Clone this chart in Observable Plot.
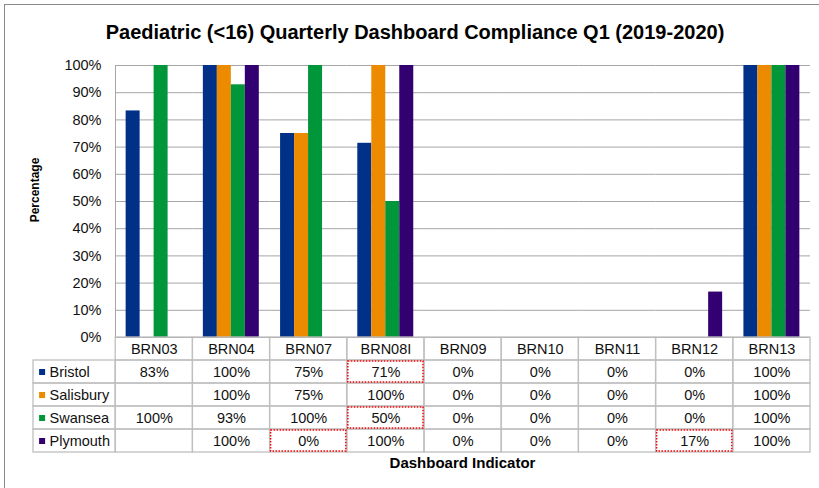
<!DOCTYPE html>
<html>
<head>
<meta charset="utf-8">
<script src="https://cdn.jsdelivr.net/npm/d3@7"></script>
<script src="https://cdn.jsdelivr.net/npm/@observablehq/plot@0.6"></script>
<style>
  html, body { margin: 0; padding: 0; background: #fff; width: 819px; height: 488px; overflow: hidden;
    font-family: "Liberation Sans", Arial, sans-serif; color: #000; }
  #frame { position: absolute; left: 4px; top: 4px; width: 900px; height: 600px; border: 1px solid #8a8a8a; box-sizing: border-box; }
  #title { position: absolute; left: 0; top: 20px; width: 830px; text-align: center; font-weight: bold; font-size: 20px; line-height: 24px; white-space: nowrap; }
  #ylabel { position: absolute; left: 35px; top: 190px; transform: translate(-50%, -50%) rotate(-90deg); font-weight: bold; font-size: 12px; white-space: nowrap; }
  #chart { position: absolute; left: 0; top: 50px; }
  #table { position: absolute; left: 0; top: 336px; }
  #xlabel { position: absolute; left: 115px; width: 695px; top: 455px; text-align: center; font-weight: bold; font-size: 15px; line-height: 16px; }
</style>
</head>
<body>
<div id="frame"></div>
<div id="title">Paediatric (&lt;16) Quarterly Dashboard Compliance Q1 (2019-2020)</div>
<div id="ylabel">Percentage</div>
<div id="chart"></div>
<div id="table"></div>
<div id="xlabel">Dashboard Indicator</div>
<script>
// ---- data ----
const categories = ["BRN03", "BRN04", "BRN07", "BRN08I", "BRN09", "BRN10", "BRN11", "BRN12", "BRN13"];
const sites = ["Bristol", "Salisbury", "Swansea", "Plymouth"];
const siteColors = ["#003087", "#ED8B00", "#009639", "#330072"];
const bristol   = [83.3, 100, 75, 71.4, 0, 0, 0, 0, 100];
const salisbury = [null, 100, 75, 100, 0, 0, 0, 0, 100];
const swansea   = [100, 92.9, 100, 50, 0, 0, 0, 0, 100];
const plymouth  = [null, 100, 0, 100, 0, 0, 0, 16.7, 100];
const yTicks = [0, 10, 20, 30, 40, 50, 60, 70, 80, 90, 100];
const highlightCells = [["BRN08I", "Bristol"], ["BRN08I", "Swansea"], ["BRN07", "Plymouth"], ["BRN12", "Plymouth"]];

// ---- build tables ----
const seriesValues = [bristol, salisbury, swansea, plymouth];
const rows = [];
categories.forEach((c, i) => sites.forEach((s, j) => rows.push({category: c, site: s, value: seriesValues[j][i]})));
const present = rows.filter(d => d.value != null);
const headerKey = " ";
const rowKeys = [headerKey, ...sites];
const gridCells = [];
categories.forEach(c => rowKeys.forEach(r => gridCells.push({category: c, row: r})));

const font = '"Liberation Sans", Arial, sans-serif';

// ---- bar chart ----
const chart = Plot.plot({
  width: 819, height: 300,
  marginLeft: 115, marginRight: 9, marginTop: 15, marginBottom: 13,
  style: {fontFamily: font, fontSize: "14.5px", color: "#000", background: "transparent"},
  fx: {domain: categories, axis: null, paddingInner: 0, paddingOuter: 0, label: null, round: false},
  x: {domain: sites, axis: null, paddingInner: 0, paddingOuter: 0.76, round: false},
  y: {domain: [0, 100], axis: null},
  color: {domain: sites, range: siteColors},
  marks: [
    Plot.ruleY(yTicks, {stroke: "#a6a6a6", strokeWidth: 1}),
    Plot.frame({anchor: "left", stroke: "#a6a6a6", facetAnchor: "left"}),
    Plot.axisY(yTicks, {tickSize: 0, tickPadding: 14, tickFormat: d => d + "%", label: null, fill: "#111", fontSize: 14.5}),
    Plot.barY(present, {fx: "category", x: "site", y: "value", fill: "site"})
  ]
});
document.getElementById("chart").appendChild(chart);

// ---- data table ----
const table = Plot.plot({
  width: 819, height: 118,
  marginLeft: 38, marginRight: 9, marginTop: 1, marginBottom: 2,
  style: {fontFamily: font, fontSize: "14.5px", color: "#000", background: "transparent"},
  x: {domain: ["legend", ...categories], axis: null, paddingInner: 0, paddingOuter: 0, round: false},
  y: {domain: rowKeys, axis: null, paddingInner: 0, paddingOuter: 0, round: false},
  color: {domain: sites, range: siteColors},
  marks: [
    Plot.cell(gridCells, {x: "category", y: "row", fill: "none", stroke: "#bfbfbf", strokeWidth: 1.3}),
    Plot.cell(sites, {x: () => "legend", y: d => d, fill: "none", stroke: "#bfbfbf", strokeWidth: 1.3, insetLeft: -5}),
    Plot.text(categories, {x: d => d, y: () => headerKey, text: d => d, fill: "#111"}),
    Plot.text(present, {x: "category", y: "site", text: d => Math.round(d.value) + "%", fill: "#111"}),
    Plot.dot(sites, {x: () => "legend", y: d => d, symbol: "square", r: 3.4, fill: d => d, stroke: null, dx: -35}),
    Plot.text(sites, {x: () => "legend", y: d => d, text: d => d, textAnchor: "start", dx: -27.6, fill: "#111"}),
    Plot.cell(highlightCells, {x: d => d[0], y: d => d[1], fill: "none", stroke: "#ff0000", strokeWidth: 1.5, strokeDasharray: "1.5,1.5", inset: 1})
  ]
});
document.getElementById("table").appendChild(table);
</script>
</body>
</html>
